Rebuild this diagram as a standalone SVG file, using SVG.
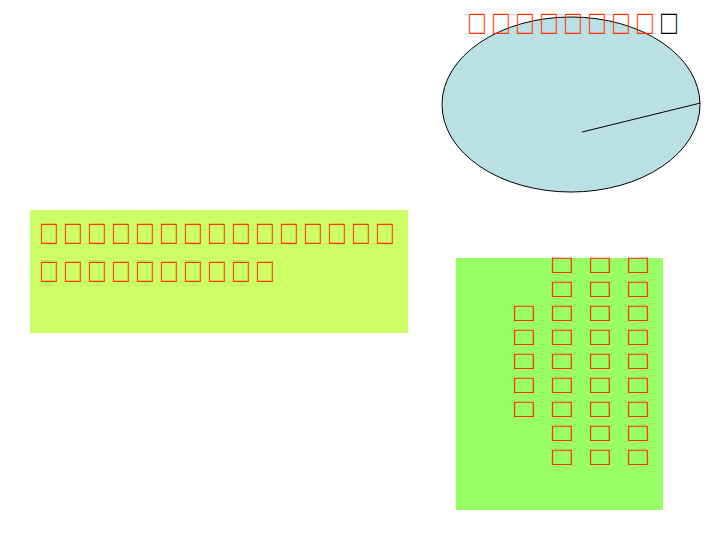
<svg xmlns="http://www.w3.org/2000/svg" width="720" height="540" viewBox="0 0 720 540">
<style>
.t{font-family:"Liberation Sans",sans-serif;font-size:34px;fill:#ff3300}
.k{fill:#000000}
</style>
<rect width="720" height="540" fill="#ffffff"/>
<g id="pie">
<ellipse cx="571" cy="104.5" rx="129" ry="87.5" fill="#bbe0e3" stroke="#000000" stroke-width="1"/>
</g>
<g id="connectors">
<line x1="582" y1="132" x2="700.5" y2="103" stroke="#000000" stroke-width="1"/>
</g>
<g id="title">
<text class="t" transform="translate(468.9,34) scale(0.78,1)" x="0 30.77 61.54 92.31 123.08 153.85 184.62 215.38 246.15" y="0">□□□□□□□□<tspan class="k">□</tspan></text>
</g>
<g id="box-left">
<rect x="30" y="210" width="378" height="123" fill="#ccff66"/>
<text class="t" transform="translate(41.1,243.6) scale(0.78,1)" x="0 30.77 61.54 92.31 123.08 153.85 184.62 215.38 246.15 276.92 307.69 338.46 369.23 400 430.77" y="0">□□□□□□□□□□□□□□□</text>
<text class="t" transform="translate(41.1,281.6) scale(0.78,1)" x="0 30.77 61.54 92.31 123.08 153.85 184.62 215.38 246.15 276.92" y="0">□□□□□□□□□□</text>
</g>
<g id="box-right">
<rect x="456" y="258" width="207" height="252" fill="#99ff66"/>
<text class="t" transform="translate(628.1,272.56) scale(0.967,0.76)" x="0 0 0 0 0 0 0 0 0" y="0 31.58 63.16 94.74 126.32 157.89 189.47 221.05 252.63">□□□□□□□□□</text>
<text class="t" transform="translate(590.1,272.56) scale(0.967,0.76)" x="0 0 0 0 0 0 0 0 0" y="0 31.58 63.16 94.74 126.32 157.89 189.47 221.05 252.63">□□□□□□□□□</text>
<text class="t" transform="translate(552.1,272.56) scale(0.967,0.76)" x="0 0 0 0 0 0 0 0 0" y="0 31.58 63.16 94.74 126.32 157.89 189.47 221.05 252.63">□□□□□□□□□</text>
<text class="t" transform="translate(514.1,320.56) scale(0.967,0.76)" x="0 0 0 0 0" y="0 31.58 63.16 94.74 126.32">□□□□□</text>
</g>
</svg>
